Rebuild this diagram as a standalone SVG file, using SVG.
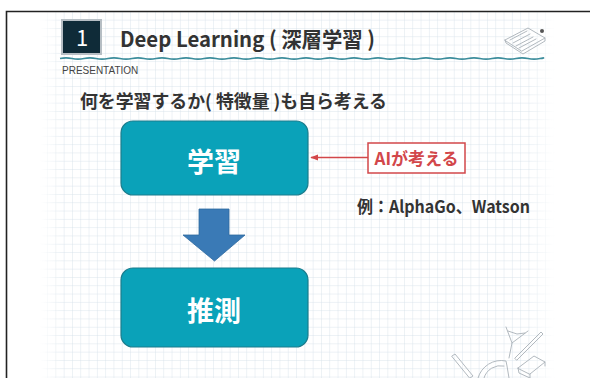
<svg xmlns="http://www.w3.org/2000/svg" width="590" height="378" viewBox="0 0 590 378">
  <defs>
    <style>
      .jp { font-family: "Noto Sans CJK JP", "Noto Sans", sans-serif; }
      .box { fill: #0aa2b9; stroke: #1b7d8d; stroke-width: 1.2; }
      .boxlabel { fill: #ffffff; font-size: 27px; font-weight: 700; text-anchor: middle; }
      .sketch { fill: none; stroke: #a9b1b8; stroke-width: 0.9; stroke-linecap: round; stroke-linejoin: round; }
    </style>
    <pattern id="grid" width="8.3" height="8.3" patternUnits="userSpaceOnUse" x="48" y="4">
      <path d="M8.3 0 V8.3 M0 8.3 H8.3" fill="none" stroke="#d3dee8" stroke-width="0.8"/>
    </pattern>
    <linearGradient id="fadeX" x1="0" x2="1" y1="0" y2="0">
      <stop offset="0" stop-color="#fff" stop-opacity="0"/>
      <stop offset="0.04" stop-color="#fff" stop-opacity="1"/>
      <stop offset="0.95" stop-color="#fff" stop-opacity="1"/>
      <stop offset="1" stop-color="#fff" stop-opacity="0"/>
    </linearGradient>
    <mask id="gridMask" maskUnits="userSpaceOnUse" x="40" y="12" width="515" height="366">
      <rect x="40" y="12" width="515" height="366" fill="url(#fadeX)"/>
    </mask>
    <marker id="redHead" viewBox="0 0 10 10" refX="9" refY="5" markerWidth="6" markerHeight="6" orient="auto">
      <path d="M0 1 L10 5 L0 9 Z" fill="#d2474a"/>
    </marker>
  </defs>

  <!-- page -->
  <rect width="590" height="378" fill="#ffffff"/>
  <rect x="40" y="12" width="515" height="366" fill="url(#grid)" mask="url(#gridMask)"/>
  <path d="M6.5 378 V11.5 H590" fill="none" stroke="#222" stroke-width="1.6"/>

  <!-- header -->
  <g id="header">
    <rect x="62" y="20" width="39" height="34" fill="#0f2b38" stroke="#b6bec4" stroke-width="2"/>
    <text x="82" y="46" class="jp" font-size="22" fill="#ffffff" text-anchor="middle">1</text>
    <text x="120" y="47" class="jp" font-size="21" font-weight="700" fill="#333" textLength="255" lengthAdjust="spacingAndGlyphs">Deep Learning ( 深層学習 )</text>
    <path d="M60 58.5 q6 -1.2 12 0 t12 0 t12 0 t12 0 t12 0 t12 0 t12 0 t12 0 t12 0 t12 0 t12 0 t12 0 t12 0 t12 0 t12 0 t12 0 t12 0 t12 0 t12 0 t12 0 t12 0 t12 0 t12 0 t12 0 t12 0 t12 0 t12 0 t12 0 t12 0 t12 0 t12 0 t12 0 t12 0 t12 0 t12 0 t12 0 t12 0 t12 0 t12 0 t12 0 t2 0" fill="none" stroke="#3c8d9c" stroke-width="1.6"/>
    <text x="62" y="74" font-family="Liberation Sans, Arial, sans-serif" font-size="10" fill="#444">PRESENTATION</text>
  </g>

  <!-- calculator sketch -->
  <g id="calculator" class="sketch">
    <path d="M505 40 L528 28 L545 38 L522 51 Z"/>
    <path d="M510 40 L527 31 M513 43 L530 34 M516 46 L533 37 M519 48 L536 39"/>
    <path d="M505 40 L506 43 L523 54 L545 41 L545 38"/>
    <circle cx="542" cy="31" r="2" fill="#555" stroke="none"/>
  </g>

  <text id="lead" x="80" y="108" class="jp" font-size="18" font-weight="700" fill="#333" textLength="307" lengthAdjust="spacingAndGlyphs">何を学習するか( 特徴量 )も自ら考える</text>

  <!-- connectors -->
  <g id="connectors">
    <line x1="368" y1="157.5" x2="311" y2="157.5" stroke="#d2474a" stroke-width="1.3" marker-end="url(#redHead)"/>
    <path d="M199 209 H229 V235 H245 L214.5 261 L183 235 H199 Z" fill="#3a7ab6" stroke="#2f6aa0" stroke-width="0.8"/>
  </g>

  <g id="learn">
    <rect class="box" x="121" y="121" width="187" height="74" rx="12"/>
    <text class="jp boxlabel" x="214" y="172">学習</text>
  </g>

  <g id="ai">
    <rect x="368" y="143" width="97" height="30" fill="#ffffff" stroke="#d2474a" stroke-width="1.5"/>
    <text x="416.5" y="165" class="jp" font-size="17" font-weight="700" fill="#d2474a" text-anchor="middle" textLength="84" lengthAdjust="spacingAndGlyphs">AIが考える</text>
  </g>

  <text id="example" x="357" y="213" class="jp" font-size="17" font-weight="700" fill="#333" textLength="173" lengthAdjust="spacingAndGlyphs">例：AlphaGo、Watson</text>

  <g id="infer">
    <rect class="box" x="121" y="268" width="187" height="79" rx="12"/>
    <text class="jp boxlabel" x="214" y="321">推測</text>
  </g>

  <!-- stationery sketch -->
  <g id="stationery" class="sketch">
    <path d="M452 356 L455 354 L473 376 L470 378 Z"/>
    <path d="M478 378 A24 24 0 0 1 506 361 L507 366 L509 378"/>
    <path d="M484 378 A17 17 0 0 1 504 366"/>
    <path d="M506 327 L512 343 L509 358 M512 343 L528 331 M508 331 L517 334 L525 333"/>
    <path d="M515 358 L541 332 L543 334 L517 360 Z"/>
    <path d="M518 368 L534 356 L545 362 L530 374 Z M518 368 L519 373 L530 378 M530 374 L530 378 M545 362 L545 366"/>
  </g>
</svg>
